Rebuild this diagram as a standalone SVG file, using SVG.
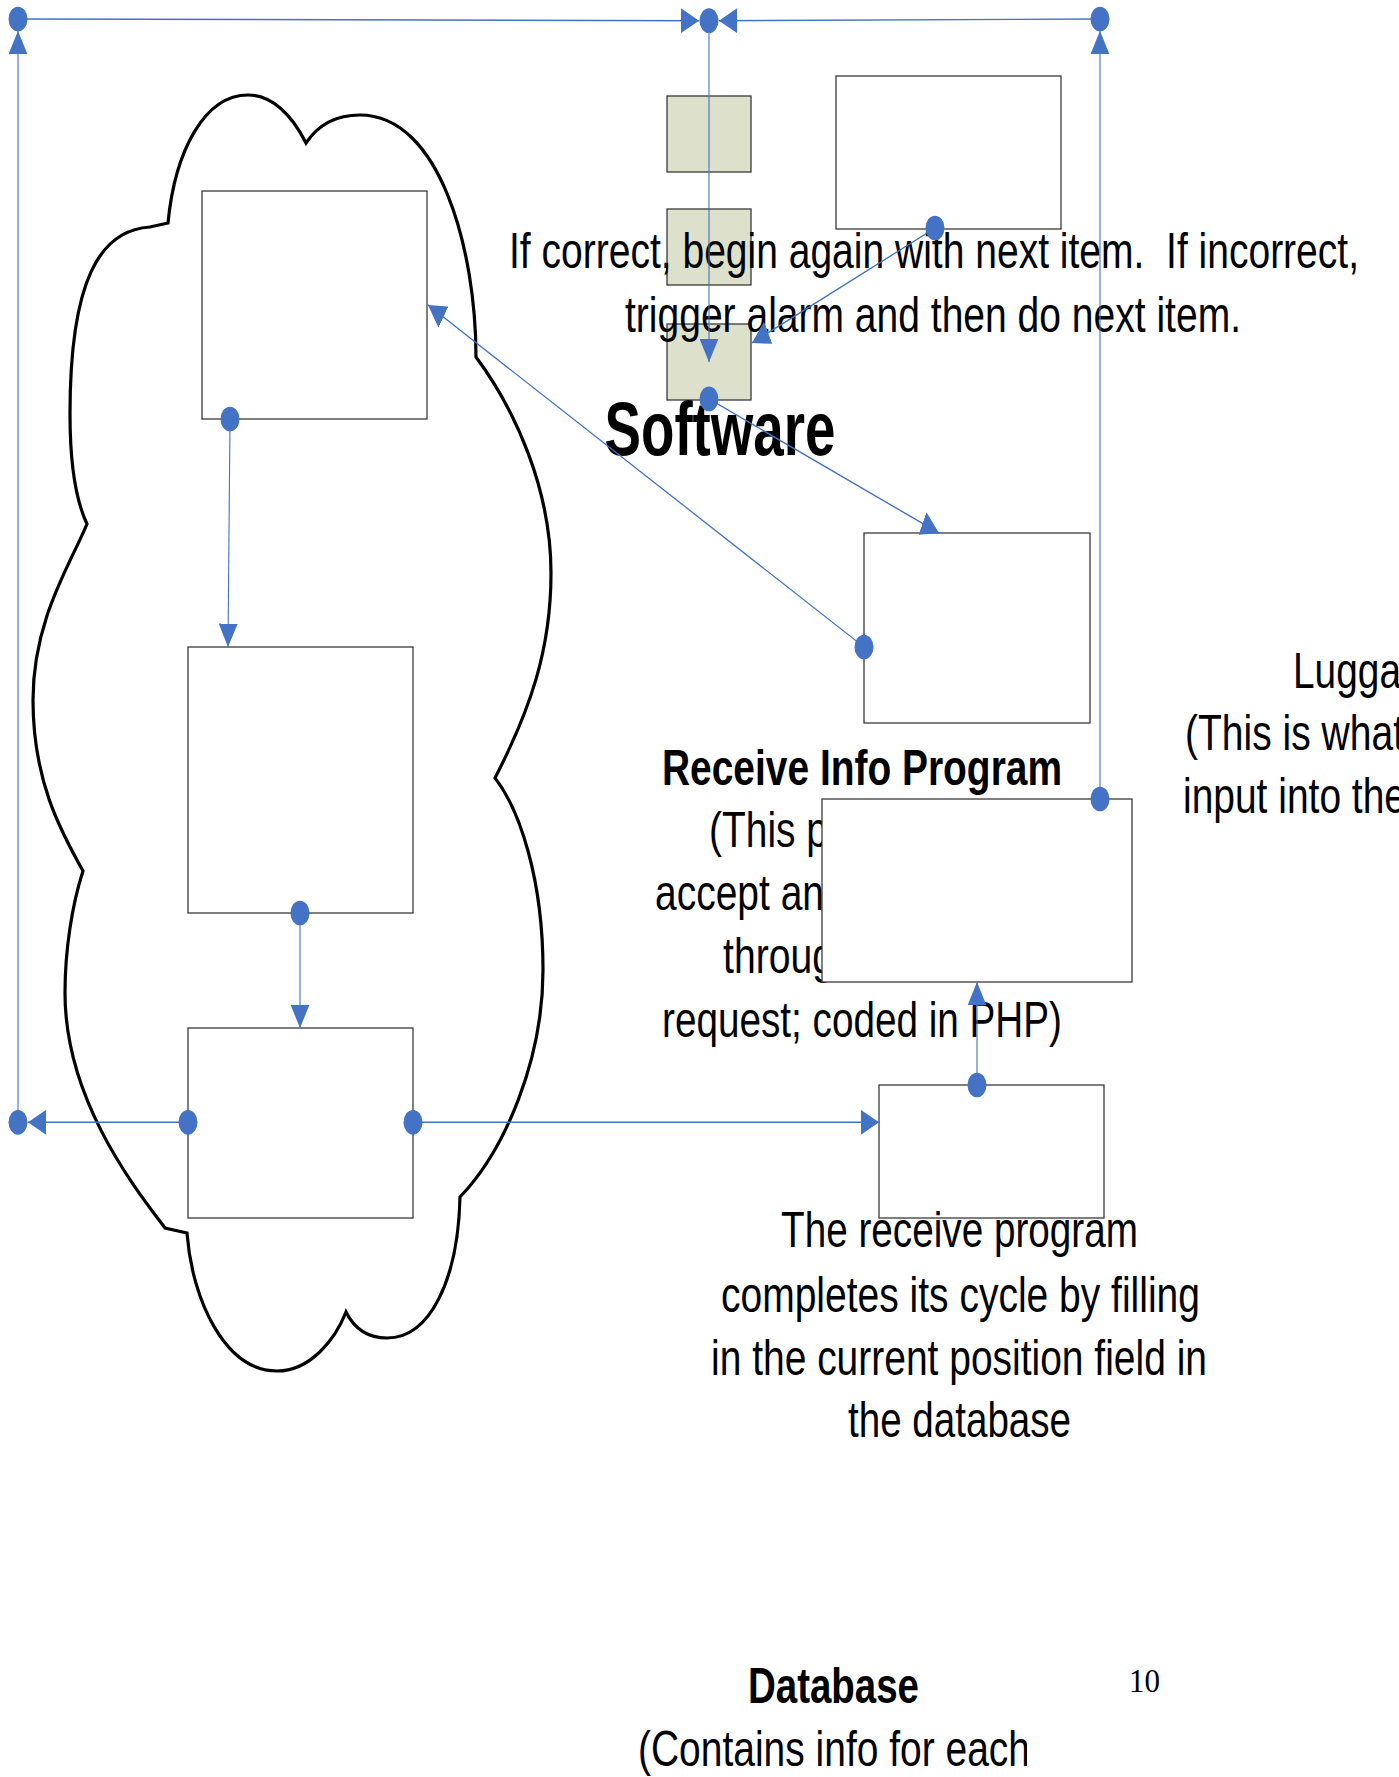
<svg xmlns="http://www.w3.org/2000/svg" width="1399" height="1777" viewBox="0 0 1399 1777">
  <style>
    .box{fill:#fff;stroke:#3a3a3a;stroke-width:1.3}
    .tag{fill:#dde1cc;stroke:#3a3a3a;stroke-width:1.3}
    .cloud{fill:#fff;stroke:#000;stroke-width:3.2;stroke-linejoin:miter}
    .conn{fill:none;stroke:#4472c4;stroke-width:1.1}
    text{font-family:"Liberation Sans",Arial,sans-serif;font-size:50px;fill:#000}
    .b{font-weight:bold}
    .mid{text-anchor:middle}
    .page{font-family:"Liberation Serif","Times New Roman",serif;font-size:34px}
  </style>
  <defs>
    <!-- connector ends; drawn inside the vertically scaled connector group -->
    <marker id="arrow" viewBox="0 0 18 19" refX="18" refY="9.5" markerWidth="18" markerHeight="19" markerUnits="userSpaceOnUse" orient="auto">
      <path d="M0,0 L18,9.5 L0,19 Z" fill="#4472c4"/>
    </marker>
    <marker id="dot" viewBox="-10 -10 20 20" refX="0" refY="0" markerWidth="20" markerHeight="20" markerUnits="userSpaceOnUse">
      <circle r="9.5" fill="#4472c4"/>
    </marker>
    <!-- text frame of the database caption -->
    <clipPath id="dbFrame"><rect x="600" y="1640" width="427" height="137"/></clipPath>
  </defs>

  <rect width="1399" height="1777" fill="#fff"/>

  <!-- server cloud -->
  <g id="cloud">
    <path class="cloud" d="M168,223 C175,150 205,95 248,95 C272,95 292,115 306,143 C318,125 335,115 360,115 C440,115 476,250 476,357 C516,411 551,490 551,573 C551,650 530,710 495,778 C520,810 543,880 543,970 C543,1060 505,1150 460,1197 C458,1280 430,1338 387,1338 C370,1338 355,1330 346,1312 C335,1340 310,1371 277,1371 C225,1371 192,1300 187,1233 L165,1228 C135,1188 65,1100 65,993 C65,950 72,905 83,871 C60,830 33,780 33,700 C33,620 70,565 87,524 C78,505 70,470 70,414 C70,280 100,230 150,227 Z"/>
  </g>

  <!-- process boxes -->
  <g id="cloud-top-box"><rect class="box" x="202" y="191" width="225" height="228"/></g>
  <g id="cloud-middle-box"><rect class="box" x="188" y="647" width="225" height="266"/></g>
  <g id="cloud-bottom-box"><rect class="box" x="188" y="1028" width="225" height="190"/></g>
  <g id="tag-1"><rect class="tag" x="667" y="96" width="84" height="76"/></g>
  <g id="tag-2"><rect class="tag" x="667" y="209" width="84" height="76"/></g>
  <g id="tag-3"><rect class="tag" x="667" y="324" width="84" height="76"/></g>
  <g id="alarm-box"><rect class="box" x="836" y="76" width="225" height="153"/></g>
  <g id="check-box"><rect class="box" x="864" y="533" width="226" height="190"/></g>
  <g id="database-box"><rect class="box" x="879" y="1085" width="225" height="133"/></g>

  <!-- labels -->
  <g id="labels">
    <text class="mid" x="934" y="268" style="white-space:pre" textLength="850" lengthAdjust="spacingAndGlyphs">If correct, begin again with next item.  If incorrect,</text>
    <text class="mid" x="933" y="332" textLength="616" lengthAdjust="spacingAndGlyphs">trigger alarm and then do next item.</text>
    <text class="mid b" x="720" y="455" style="font-size:76px" textLength="231" lengthAdjust="spacingAndGlyphs">Software</text>
    <text class="mid b" x="862" y="785" textLength="400" lengthAdjust="spacingAndGlyphs">Receive Info Program</text>
    <text x="709" y="847" textLength="119" lengthAdjust="spacingAndGlyphs">(This p</text>
    <text x="655" y="910" textLength="169" lengthAdjust="spacingAndGlyphs">accept an</text>
    <text x="723" y="973" textLength="111" lengthAdjust="spacingAndGlyphs">throug</text>
    <text class="mid" x="862" y="1037" textLength="400" lengthAdjust="spacingAndGlyphs">request; coded in PHP)</text>
    <text x="1293" y="688" textLength="108" lengthAdjust="spacingAndGlyphs">Lugga</text>
    <text x="1185" y="750" textLength="219" lengthAdjust="spacingAndGlyphs">(This is what</text>
    <text x="1183" y="813" textLength="223" lengthAdjust="spacingAndGlyphs">input into the</text>
    <text class="mid" x="959.5" y="1247" textLength="357" lengthAdjust="spacingAndGlyphs">The receive program</text>
    <text class="mid" x="960.5" y="1312" textLength="479" lengthAdjust="spacingAndGlyphs">completes its cycle by filling</text>
    <text class="mid" x="959" y="1375" textLength="496" lengthAdjust="spacingAndGlyphs">in the current position field in</text>
    <text class="mid" x="959.5" y="1437" textLength="223" lengthAdjust="spacingAndGlyphs">the database</text>
    <text class="mid b" x="833.5" y="1703" textLength="171" lengthAdjust="spacingAndGlyphs">Database</text>
    <text x="638" y="1766" clip-path="url(#dbFrame)" textLength="392" lengthAdjust="spacingAndGlyphs">(Contains info for each</text>
    <text class="page" x="1129" y="1692" textLength="31" lengthAdjust="spacingAndGlyphs">10</text>
  </g>

  <!-- receive program box sits over its caption -->
  <g id="receive-box"><rect class="box" x="822" y="799" width="310" height="183"/></g>

  <!-- connectors: drawn in a frame stretched 1.3x vertically (y values = y / 1.3) -->
  <g id="connectors" transform="scale(1,1.3)">
    <path class="conn" marker-start="url(#dot)" marker-end="url(#arrow)" d="M18 14.6 L699 15.9"/>
    <path class="conn" marker-start="url(#dot)" marker-end="url(#arrow)" d="M1100 14.6 L719 15.9"/>
    <path class="conn" marker-start="url(#dot)" marker-end="url(#arrow)" d="M709 15.9 L709 278.5"/>
    <path class="conn" marker-start="url(#dot)" marker-end="url(#arrow)" d="M18 863.3 L18 23.8"/>
    <path class="conn" marker-start="url(#dot)" marker-end="url(#arrow)" d="M1100 614.6 L1100 23.8"/>
    <path class="conn" marker-start="url(#dot)" marker-end="url(#arrow)" d="M188 863.3 L28 863.3"/>
    <path class="conn" marker-start="url(#dot)" marker-end="url(#arrow)" d="M413 863.3 L879 863.3"/>
    <path class="conn" marker-start="url(#dot)" marker-end="url(#arrow)" d="M230 322.3 L228 497.7"/>
    <path class="conn" marker-start="url(#dot)" marker-end="url(#arrow)" d="M300 702.3 L300 790.8"/>
    <path class="conn" marker-start="url(#dot)" marker-end="url(#arrow)" d="M977 834.6 L977 755.4"/>
    <path class="conn" marker-start="url(#dot)" marker-end="url(#arrow)" d="M709 306.9 L939 410"/>
    <path class="conn" marker-start="url(#dot)" marker-end="url(#arrow)" d="M864 497.7 L428 234.6"/>
    <path class="conn" marker-start="url(#dot)" marker-end="url(#arrow)" d="M935 175.4 L752 263.8"/>
  </g>
</svg>
